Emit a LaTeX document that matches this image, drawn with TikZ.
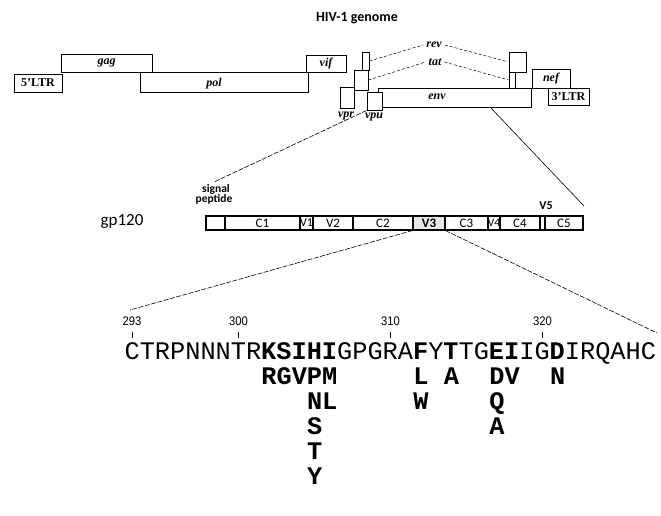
\documentclass[tikz,border=0pt]{standalone}
\usepackage{fontspec}
\setmainfont{Liberation Serif}
\newfontfamily\calfont{Carlito}
\newfontfamily\seqfont{Liberation Mono}
\newfontfamily\numfont{Liberation Sans}
\begin{document}
\begin{tikzpicture}[x=1pt,y=-1pt,
  gbox/.style={draw, line width=0.9pt, inner sep=0pt, fill=white},
  glab/.style={font=\fontsize{12}{13}\selectfont\bfseries\itshape, inner sep=0pt},
  ltr/.style={font=\fontsize{12}{14}\selectfont\bfseries},
  splice/.style={dash pattern=on 3pt off 2pt, line width=0.5pt},
  expand/.style={dash pattern=on 5pt off 1.5pt, line width=0.6pt},
  segbox/.style={draw, line width=1.1pt, inner sep=0pt, minimum height=14pt},
  seglab/.style={font=\calfont\fontsize{13}{14}\selectfont, inner sep=0pt},
  seq/.style={font=\seqfont\fontsize{25.3}{26}\selectfont, inner sep=0pt, anchor=base west},
  alt/.style={font=\seqfont\bfseries\fontsize{25.3}{26}\selectfont, inner sep=0pt, anchor=base west},
  num/.style={font=\numfont\fontsize{12.5}{13}\selectfont, inner sep=0pt, xscale=0.9}]
\useasboundingbox (0,0) rectangle (661,515);

% title
\node[font=\calfont\bfseries\fontsize{14}{16}\selectfont, inner sep=0pt] (title) at (357,18) {HIV-1 genome};

% genome boxes
\node[gbox, ltr, minimum width=48pt, minimum height=18pt] (ltrA) at (38,83) {5'LTR};
\node[gbox, glab, minimum width=91pt, minimum height=18pt] (gag) at (106.5,63) {gag};
\node[gbox, minimum width=168pt, minimum height=20pt] (pol) at (224,82) {};
\node[glab] (poll) at (214,84) {pol};
\node[gbox, glab, minimum width=40pt, minimum height=17pt] (vif) at (326,63.5) {vif};
\node[gbox, minimum width=7pt, minimum height=18pt] (rev1) at (365.5,61) {};
\node[gbox, minimum width=14pt, minimum height=20pt] (tat1) at (361,80) {};
\node[gbox, minimum width=14pt, minimum height=21pt] (vpr) at (347,97.5) {};
\node[gbox, minimum width=153pt, minimum height=19pt] (env) at (454.5,97.5) {};
\node[glab] (envl) at (437,97) {env};
\node[gbox, minimum width=15pt, minimum height=18pt] (vpu) at (374.5,101) {};
\node[gbox, minimum width=17pt, minimum height=20pt] (rev2) at (517.5,62) {};
\node[gbox, minimum width=6pt, minimum height=16pt] (tat2) at (512,80) {};
\node[gbox, glab, minimum width=38pt, minimum height=19pt] (nef) at (551,78.5) {nef};
\node[gbox, ltr, minimum width=41pt, minimum height=17pt] (ltrB) at (568.5,96.5) {3'LTR};

% genome labels
\node[glab, inner xsep=3pt] (revl) at (434,45) {rev};
\node[glab, inner xsep=3pt] (tatl) at (435,62) {tat};
\node[glab] (vprl) at (346,116) {vpr};
\node[glab] (vpul) at (374,117) {vpu};

% splice lines
\draw[splice] (rev1.east) -- (revl.west);
\draw[splice] (revl.east) -- (rev2.west);
\draw[splice] (tat1.east) -- (tatl.west);
\draw[splice] (tatl.east) -- (tat2.west);

% expansion to gp120
\coordinate (expL) at (214,182);
\coordinate (envR) at (490,107);
\coordinate (expR) at (584,206);
\draw[expand] (vpu.south west) -- (expL);
\draw[line width=0.6pt] (envR) -- (expR);

% gp120
\node[font=\calfont\fontsize{17}{19}\selectfont, inner sep=0pt] (gplab) at (122,221) {gp120};
\node[font=\calfont\bfseries\fontsize{11.5}{12}\selectfont, inner sep=0pt] (sig1) at (216,189) {signal};
\node[font=\calfont\bfseries\fontsize{11.5}{12}\selectfont, inner sep=0pt] (sig2) at (214,199) {peptide};

\node[segbox, minimum width=19pt] (sSP) at (215.5,223) {};
\node[segbox, minimum width=75pt] (sC1) at (262.5,223) {};
\node[segbox, minimum width=13pt] (sV1) at (306.5,223) {};
\node[segbox, minimum width=40pt] (sV2) at (333,223) {};
\node[segbox, minimum width=60pt] (sC2) at (383,223) {};
\node[segbox, minimum width=32pt, fill=gray!18] (sV3) at (429,223) {};
\node[segbox, minimum width=43pt] (sC3) at (466.5,223) {};
\node[segbox, minimum width=12pt] (sV4) at (494,223) {};
\node[segbox, minimum width=40pt] (sC4) at (520,223) {};
\node[segbox, minimum width=5pt] (sV5) at (542.5,223) {};
\node[segbox, minimum width=38pt] (sC5) at (564,223) {};

\node[seglab] at (sC1.center) {C1};
\node[seglab, font=\calfont\fontsize{12}{13}\selectfont] at (sV1.center) {V1};
\node[seglab] at (sV2.center) {V2};
\node[seglab] at (sC2.center) {C2};
\node[seglab, font=\calfont\bfseries\fontsize{13}{14}\selectfont] at (sV3.center) {V3};
\node[seglab] at (sC3.center) {C3};
\node[seglab, font=\calfont\fontsize{11.5}{13}\selectfont] at (sV4.center) {V4};
\node[seglab] at (sC4.center) {C4};
\node[seglab] at (sC5.center) {C5};
\node[font=\calfont\bfseries\fontsize{12}{13}\selectfont, inner sep=0pt] (v5l) at (546,206) {V5};

% V3 expansion
\coordinate (zl) at (130,310);
\coordinate (zr) at (657,333);
\draw[expand] (sV3.south west) -- (zl);
\draw[expand] (sV3.south east) -- (zr);

% numbers and ticks
\node[num] (n293) at (132,321) {293};
\node[num] (n300) at (238.4,321) {300};
\node[num] (n310) at (390.4,321) {310};
\node[num] (n320) at (542.4,321) {320};
\foreach \t in {132,238.4,390.4,542.4} \draw[line width=0.6pt] (\t,332) -- (\t,338);

% sequence
\node[seq] (seqline) at (124.4,359) {CTRPNNNTR\textbf{KSIHI}GPGRA\textbf{F}Y\textbf{T}TG\textbf{EI}IG\textbf{D}IRQAHC};

% alternatives
\node[alt] (a1) at (261.2,384) {RGVPM};
\node[alt] (a2) at (413.2,384) {L};
\node[alt] (a3) at (443.6,384) {A};
\node[alt] (a4) at (489.2,384) {DV};
\node[alt] (a5) at (550.0,384) {N};
\node[alt] (b1) at (306.8,409) {NL};
\node[alt] (b2) at (413.2,409) {W};
\node[alt] (b3) at (489.2,409) {Q};
\node[alt] (c1) at (306.8,434) {S};
\node[alt] (c2) at (489.2,434) {A};
\node[alt] (d1) at (306.8,459) {T};
\node[alt] (e1) at (306.8,484) {Y};
\end{tikzpicture}
\end{document}
